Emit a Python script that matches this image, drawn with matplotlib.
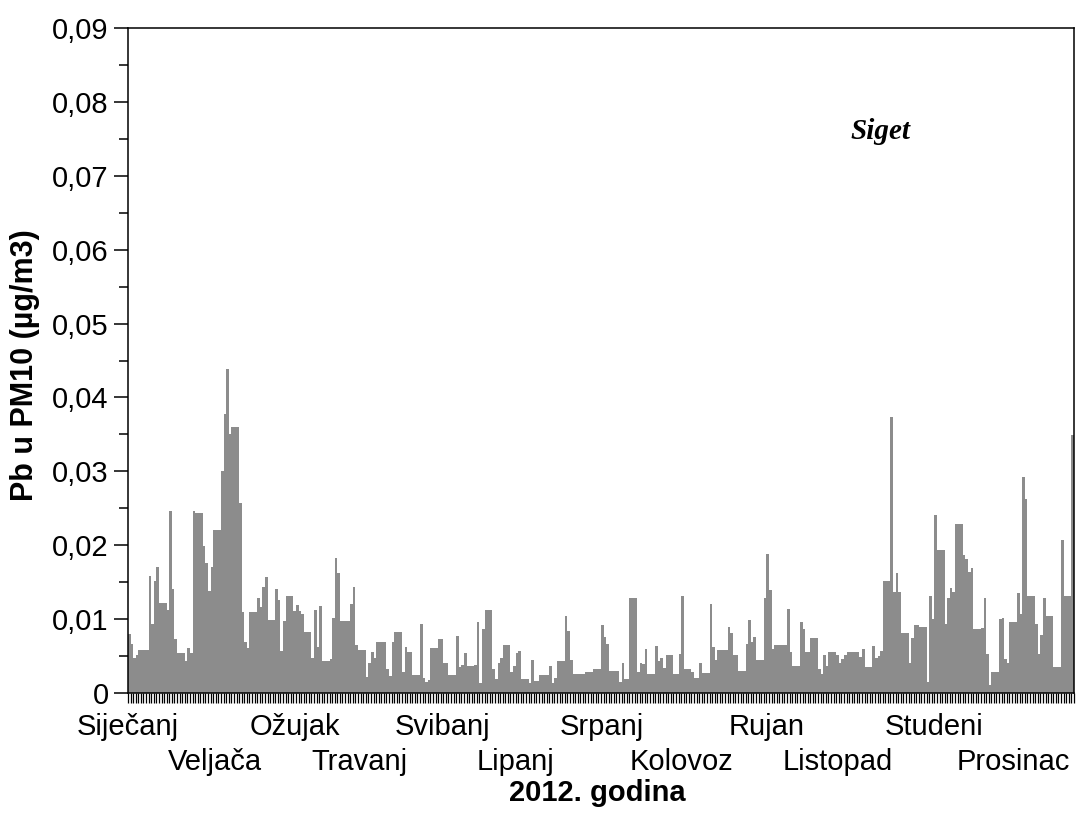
import matplotlib
matplotlib.use("Agg")
import matplotlib.pyplot as plt
import matplotlib.ticker as ticker
import numpy as np

plt.rcParams['font.family'] = ['Liberation Sans', 'DejaVu Sans']

# dnevne vrijednosti Pb u PM10 (ug/m3), 2012. godina - po mjesecima
sijecanj = [0.0080, 0.0066, 0.0048, 0.0051, 0.0058, 0.0058, 0.0058, 0.0058, 0.0158, 0.0094,
            0.0151, 0.0171, 0.0122, 0.0122, 0.0122, 0.0112, 0.0246, 0.0141, 0.0073, 0.0054,
            0.0054, 0.0054, 0.0043, 0.0061, 0.0054, 0.0246, 0.0244, 0.0244, 0.0244, 0.0199,
            0.0176]
veljaca = [0.0138, 0.0170, 0.0220, 0.0220, 0.0220, 0.0301, 0.0377, 0.0439, 0.0351, 0.0360,
           0.0360, 0.0360, 0.0257, 0.0110, 0.0069, 0.0061, 0.0109, 0.0109, 0.0109, 0.0128,
           0.0116, 0.0143, 0.0157, 0.0099, 0.0099, 0.0099, 0.0141, 0.0126, 0.0057]
ozujak = [0.0098, 0.0131, 0.0131, 0.0131, 0.0111, 0.0119, 0.0111, 0.0107, 0.0083, 0.0083,
          0.0083, 0.0047, 0.0113, 0.0062, 0.0118, 0.0043, 0.0043, 0.0043, 0.0046, 0.0101,
          0.0183, 0.0163, 0.0098, 0.0098, 0.0098, 0.0098, 0.0120, 0.0143, 0.0065, 0.0058,
          0.0058]
travanj = [0.0058, 0.0022, 0.0041, 0.0056, 0.0047, 0.0069, 0.0069, 0.0069, 0.0069, 0.0032,
           0.0023, 0.0069, 0.0082, 0.0082, 0.0082, 0.0028, 0.0062, 0.0055, 0.0055, 0.0024,
           0.0024, 0.0024, 0.0094, 0.0021, 0.0015, 0.0017, 0.0061, 0.0061, 0.0061, 0.0073]
svibanj = [0.0073, 0.0041, 0.0041, 0.0024, 0.0024, 0.0024, 0.0077, 0.0035, 0.0038, 0.0054,
           0.0036, 0.0036, 0.0036, 0.0038, 0.0096, 0.0014, 0.0086, 0.0113, 0.0113, 0.0113,
           0.0032, 0.0019, 0.0041, 0.0048, 0.0065, 0.0065, 0.0065, 0.0028, 0.0036, 0.0054,
           0.0057]
lipanj = [0.0019, 0.0019, 0.0019, 0.0014, 0.0045, 0.0016, 0.0016, 0.0024, 0.0024, 0.0024,
          0.0024, 0.0037, 0.0014, 0.0020, 0.0044, 0.0044, 0.0044, 0.0104, 0.0084, 0.0045,
          0.0026, 0.0026, 0.0026, 0.0026, 0.0026, 0.0028, 0.0028, 0.0028, 0.0033, 0.0033]
srpanj = [0.0033, 0.0092, 0.0076, 0.0066, 0.0030, 0.0030, 0.0030, 0.0030, 0.0015, 0.0040,
          0.0019, 0.0019, 0.0129, 0.0129, 0.0129, 0.0029, 0.0041, 0.0039, 0.0060, 0.0026,
          0.0026, 0.0026, 0.0063, 0.0044, 0.0048, 0.0034, 0.0052, 0.0052, 0.0052, 0.0026,
          0.0026]
kolovoz = [0.0053, 0.0131, 0.0032, 0.0032, 0.0032, 0.0029, 0.0020, 0.0021, 0.0040, 0.0027,
           0.0027, 0.0027, 0.0121, 0.0062, 0.0045, 0.0058, 0.0058, 0.0058, 0.0058, 0.0089,
           0.0081, 0.0052, 0.0052, 0.0030, 0.0030, 0.0030, 0.0066, 0.0099, 0.0069, 0.0076,
           0.0045]
rujan = [0.0045, 0.0045, 0.0129, 0.0188, 0.0139, 0.0059, 0.0065, 0.0065, 0.0065, 0.0065,
         0.0065, 0.0114, 0.0056, 0.0037, 0.0037, 0.0037, 0.0096, 0.0086, 0.0056, 0.0056,
         0.0074, 0.0074, 0.0074, 0.0032, 0.0026, 0.0052, 0.0036, 0.0055, 0.0055, 0.0055]
listopad = [0.0051, 0.0041, 0.0046, 0.0051, 0.0055, 0.0055, 0.0055, 0.0055, 0.0056, 0.0049,
            0.0060, 0.0035, 0.0035, 0.0035, 0.0064, 0.0047, 0.0050, 0.0057, 0.0151, 0.0151,
            0.0151, 0.0373, 0.0137, 0.0163, 0.0137, 0.0081, 0.0081, 0.0081, 0.0041, 0.0074,
            0.0092]
studeni = [0.0092, 0.0090, 0.0090, 0.0090, 0.0015, 0.0131, 0.0100, 0.0241, 0.0193, 0.0193,
           0.0193, 0.0093, 0.0129, 0.0142, 0.0137, 0.0229, 0.0229, 0.0229, 0.0187, 0.0182,
           0.0164, 0.0169, 0.0087, 0.0087, 0.0087, 0.0088, 0.0129, 0.0053, 0.0011, 0.0029]
prosinac = [0.0029, 0.0029, 0.0100, 0.0102, 0.0046, 0.0041, 0.0096, 0.0096, 0.0096, 0.0136,
            0.0107, 0.0292, 0.0263, 0.0131, 0.0131, 0.0131, 0.0094, 0.0053, 0.0078, 0.0129,
            0.0104, 0.0104, 0.0104, 0.0035, 0.0035, 0.0035, 0.0207, 0.0131, 0.0131, 0.0131,
            0.0349]

mjeseci = ["Siječanj", "Veljača", "Ožujak", "Travanj", "Svibanj", "Lipanj",
           "Srpanj", "Kolovoz", "Rujan", "Listopad", "Studeni", "Prosinac"]

y = np.concatenate([sijecanj, veljaca, ozujak, travanj, svibanj, lipanj,
                    srpanj, kolovoz, rujan, listopad, studeni, prosinac])
x = np.arange(len(y))

# polozaj naziva mjeseci (dan u godini)
poz_mjeseci = [0, 33.5, 64.5, 89.5, 121.5, 150, 183.5, 214, 247, 274.5, 312, 342.5]

fig = plt.figure(figsize=(10.89, 8.14), dpi=100)
ax = fig.add_axes([0.1175, 0.1486, 0.8687, 0.817])

ax.bar(x, y, width=1.0, align='edge', color='#8c8c8c', linewidth=0)

ax.set_xlim(0, len(y))
ax.set_ylim(0, 0.09)

# y os
ax.yaxis.set_major_locator(ticker.MultipleLocator(0.01))
ax.yaxis.set_minor_locator(ticker.MultipleLocator(0.005))
ax.yaxis.set_major_formatter(ticker.FuncFormatter(
    lambda v, p: "0" if abs(v) < 1e-9 else ("%.2f" % v).replace(".", ",")))
ax.tick_params(axis='y', which='major', length=10, width=1.1, labelsize=21, pad=4)
ax.tick_params(axis='y', which='minor', length=6.5, width=1.1)

# x os - crtica za svaki dan
ax.set_xticks([])
ax.xaxis.set_minor_locator(ticker.FixedLocator(np.arange(0, len(y) + 1)))
ax.tick_params(axis='x', which='minor', length=7, width=0.9, direction='out')

for s in ax.spines.values():
    s.set_linewidth(1.1)

# nazivi mjeseci u dva reda
trans = ax.get_xaxis_transform()
for i, (m, p) in enumerate(zip(mjeseci, poz_mjeseci)):
    yy = -0.0511 if i % 2 == 0 else -0.1038
    ax.text(p, yy, m, transform=trans, ha='center', va='center', fontsize=21)

ax.text(0.496, -0.150, "2012. godina", transform=ax.transAxes, ha='center',
        va='center', fontsize=21, fontweight='bold')
fig.text(25 / 1089, 1 - 365 / 814, "Pb u PM10 (µg/m3)", rotation=90, ha='center',
         va='center', fontsize=22, fontweight='bold')

ax.text(0.795, 0.845, "Siget", transform=ax.transAxes, ha='center', va='center',
        fontsize=21, fontweight='bold', fontstyle='italic', family='Liberation Serif')

fig.savefig("out.png", dpi=100)
